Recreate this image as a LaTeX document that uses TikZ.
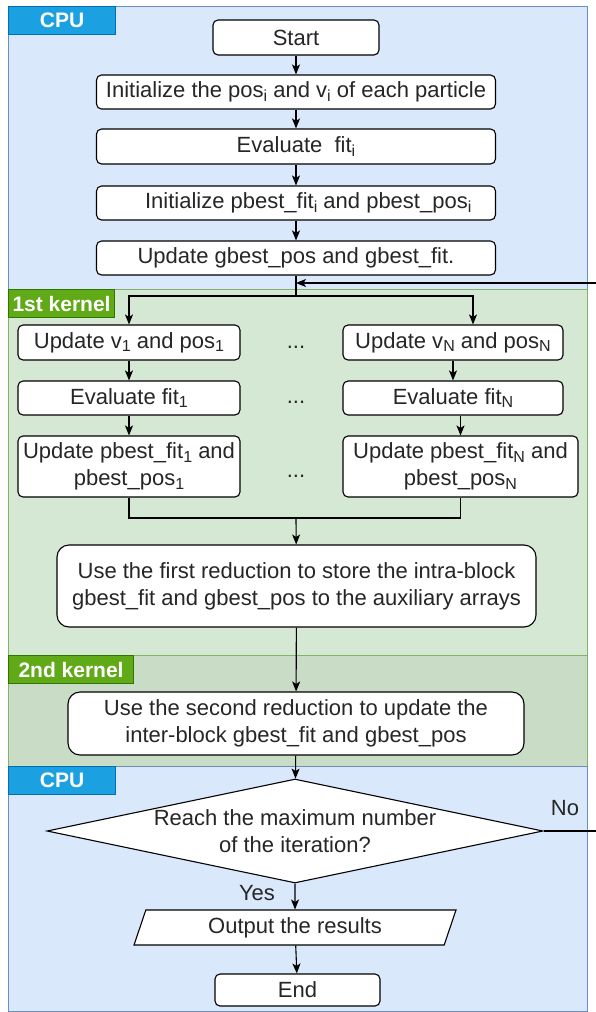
\documentclass[tikz,border=0pt]{standalone}
\usepackage{fontspec}
\setmainfont{Liberation Sans}
\usepackage{tikz}
\usetikzlibrary{shapes}
\usetikzlibrary{arrows.meta}
\definecolor{cpufill}{HTML}{DAE8FC}
\definecolor{cpuline}{HTML}{6C8EBF}
\definecolor{cputagfill}{HTML}{1BA1E2}
\definecolor{cputagline}{HTML}{006EAF}
\definecolor{gpufill}{HTML}{D5E8D4}
\definecolor{gpufilldark}{HTML}{C9DCC6}
\definecolor{gpuline}{HTML}{82B366}
\definecolor{gputagfill}{HTML}{60A917}
\definecolor{gputagline}{HTML}{2D7600}
\definecolor{ink}{HTML}{262626}
\tikzstyle{band} = [rectangle, minimum width=579, inner sep=0pt, line width=0.8]
\tikzstyle{cpuband} = [band, fill=cpufill, draw=cpuline]
\tikzstyle{gpuband} = [band, fill=gpufill, draw=gpuline]
\tikzstyle{gpubanddark} = [band, fill=gpufilldark, draw=gpuline]
\tikzstyle{tag} = [rectangle, minimum height=28, inner sep=0pt, text=white,
font=\fontsize{21}{21}\selectfont\bfseries]
\tikzstyle{cputag} = [tag, fill=cputagfill, draw=cputagline]
\tikzstyle{gputag} = [tag, fill=gputagfill, draw=gputagline]
\tikzstyle{proc} = [rectangle, rounded corners=5, draw=black, fill=white, text=ink,
align=center, inner sep=0pt, font=\fontsize{22}{27}\selectfont]
\tikzstyle{wideproc} = [proc, rounded corners=12]
\tikzstyle{decision} = [diamond, draw=black, fill=white, text=ink, aspect=4.8, inner sep=0pt,
minimum width=496, minimum height=104, align=center, font=\fontsize{22}{27}\selectfont]
\tikzstyle{io} = [trapezium, trapezium left angle=60, trapezium right angle=120,
trapezium stretches body, draw=black, fill=white, text=ink, inner sep=0pt, minimum width=322,
minimum height=35, font=\fontsize{22}{27}\selectfont]
\tikzstyle{caption} = [inner sep=0pt, text=ink, font=\fontsize{22}{22}\selectfont]
\newcommand{\sub}[1]{\raisebox{-0.32ex}{\fontsize{16}{16}\selectfont #1}}
\newcommand{\band}[7]{ %
  % Shaded band #1 from #2 down to #3, tagged #4 (tag width #5).
  \node[#6, minimum height=#3-#2, anchor=north west] (#1) at (8,#2) {} ; %
  \node[#7, minimum width=#5, anchor=north west] (#1-tag) at (#1.north west) {#4} ; %
}
\newcommand{\procbox}[6][proc]{ %
  % Process box #2 centred at #3, of size #4 x #5.
  \node[#1, minimum width=#4, minimum height=#5] (#2) at #3 {#6} ; %
}
\newcommand{\flowedge}[3][]{ %
  % Connect all nodes #2 to all nodes #3 with arrows.
  \foreach \x in {#2} { %
    \foreach \y in {#3} { %
      \path (\x) edge[->, #1] (\y) ; %
    } ;
  } ;
}

\begin{document}
\begin{tikzpicture}[x=1pt,y=-1pt,line width=1.1pt,
  >={Stealth[length=10pt,width=8pt,inset=2.5pt]}]

	\useasboundingbox (0,0) rectangle (595,1012);

	\band {cpuA}  {6}   {289}  {CPU}        {107} {cpuband}     {cputag}
	\band {kern1} {289} {655}  {1st kernel} {106} {gpuband}     {gputag}
	\band {kern2} {655} {766}  {2nd kernel} {125} {gpubanddark} {gputag}
	\band {cpuB}  {766} {1011} {CPU}        {107} {cpuband}     {cputag}

	\procbox {start}  {(296,37.5)}  {166} {35} {Start}
	\procbox {init}   {(296,92)}    {399} {34} {Initialize the pos\sub{i} and v\sub{i} of each particle}
	\procbox {evali}  {(296,146.5)} {399} {35} {Evaluate~ fit\sub{i}}
	\procbox {pbesti} {(296,203)}   {399} {34} {~~~~Initialize pbest\_fit\sub{i} and pbest\_pos\sub{i}}
	\procbox {gbest}  {(296,258)}   {399} {34} {Update gbest\_pos and gbest\_fit.}

	\procbox {upd1}   {(129,342.5)} {222} {35} {Update v\sub{1} and pos\sub{1}}
	\procbox {eval1}  {(129,398)}   {222} {34} {Evaluate fit\sub{1}}
	\procbox {pbest1} {(129,466.5)} {222} {61} {Update pbest\_fit\sub{1} and\\pbest\_pos\sub{1}}
	\procbox {updN}   {(453,342.5)} {220} {35} {Update v\sub{N} and pos\sub{N}}
	\procbox {evalN}  {(453,398)}   {220} {34} {Evaluate fit\sub{N}}
	\procbox {pbestN} {(460.5,466.5)} {235} {61} {Update pbest\_fit\sub{N} and\\pbest\_pos\sub{N}}

	\node[caption] (dots1) at (296,347) {...};
	\node[caption] (dots2) at (296,402) {...};
	\node[caption] (dots3) at (296,476) {...};

	\procbox[wideproc] {red1} {(296.5,586)} {479} {82} {Use the first reduction to store the intra-block\\gbest\_fit and gbest\_pos to the auxiliary arrays}
	\procbox[wideproc] {red2} {(296,723.5)} {456} {63} {Use the second reduction to update the\\inter-block gbest\_fit and gbest\_pos}

	\node[decision] (decide) at (295,831) {Reach the maximum number\\of the iteration?};
	\node[io] (output) at (295,927.5) {Output the results};
	\procbox {end} {(297.5,990)} {165} {32} {End}

	\node[caption] (nolabel)  at (565,808) {No};
	\node[caption] (yeslabel) at (257,893) {Yes};

	\coordinate (split) at (296,296);
	\coordinate (join)  at (296,518);
	\coordinate (loop)  at (296,283);

	\flowedge {start} {init};
	\flowedge {init} {evali};
	\flowedge {evali} {pbesti};
	\flowedge {pbesti} {gbest};

	\draw (gbest) -- (split);
	\draw[->] (split) -| (upd1);
	\draw[->] (split) -| ([xshift=20pt]updN.north);

	\flowedge {upd1} {eval1};
	\flowedge {eval1} {pbest1};
	\flowedge {updN} {evalN};
	\draw[->] (evalN.south -| pbestN) -- (pbestN);

	\draw (pbest1) |- (join);
	\draw (pbestN) |- (join);
	\flowedge {join} {red1};
	\flowedge {red1} {red2};
	\flowedge {red2} {decide};
	\flowedge {decide} {output};
	\flowedge {output} {end};

	\draw[->] (decide.east) -- ++(56,0) |- (loop);

\end{tikzpicture}
\end{document}
